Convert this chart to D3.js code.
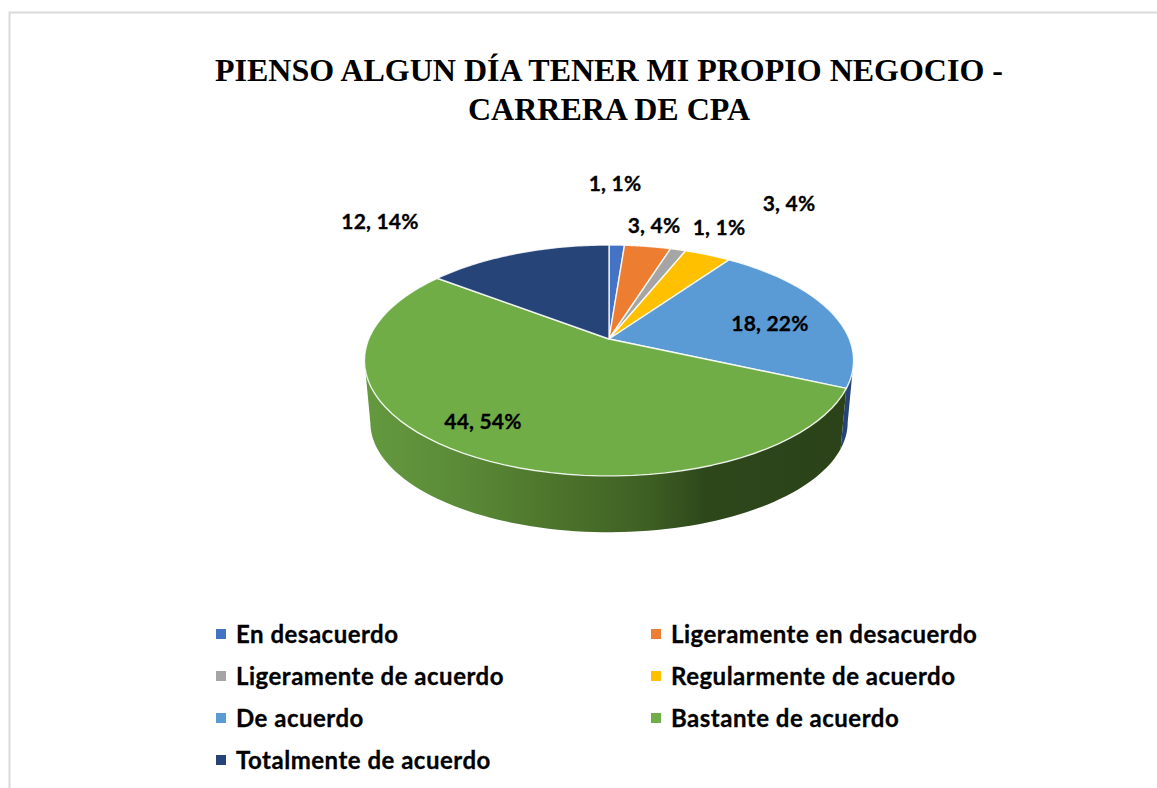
<!DOCTYPE html>
<html><head><meta charset="utf-8">
<script src="https://cdn.jsdelivr.net/npm/d3@7/dist/d3.min.js"></script>
<style>html,body{margin:0;padding:0;background:#fff;overflow:hidden}</style>
</head><body><svg id="c" width="1157" height="788"></svg>
<script>
const titleLines = ["PIENSO ALGUN DÍA TENER MI PROPIO NEGOCIO -", "CARRERA DE CPA"];
const categories = ["En desacuerdo","Ligeramente en desacuerdo","Ligeramente de acuerdo","Regularmente de acuerdo","De acuerdo","Bastante de acuerdo","Totalmente de acuerdo"];
const values = [1,3,1,3,18,44,12];
const percents = ["1%","4%","1%","4%","22%","54%","14%"];
const colors = ["#4472c4","#ed7d31","#a5a5a5","#ffc000","#5b9bd5","#70ad47","#264478"];

// layout
const labelCenters = [[615,184],[654,226],[719,228],[789,204],[770,324],[483,422],[380,222]];
const top_ = {cx:609, cy:339, a:240.3, b:111.5};
const low_ = {cx:609, cy:402, a:234.5, b:106};
const k = -0.186;
const svg = d3.select("#c");

const proj = (p,t) => { const u=Math.sin(t), v=-Math.cos(t), d=1+k*v; return [p.cx+p.a*u/d, p.cy+p.b*v/d]; };
const range = (a,b,n=60) => d3.range(n+1).map(i => a+(b-a)*i/n);
const line = d3.line();

const defs = svg.append("defs");
const wall = defs.append("linearGradient").attr("id","wallG").attr("gradientUnits","userSpaceOnUse")
  .attr("x1",365).attr("x2",853).attr("y1",0).attr("y2",0);
[[0,"#64993f"],[0.2,"#5a8a37"],[0.4,"#4c732b"],[0.58,"#3e5f23"],[0.7,"#2d471b"],[1,"#2b4219"]]
  .forEach(s => wall.append("stop").attr("offset",s[0]).attr("stop-color",s[1]));

// frame
svg.append("path").attr("d","M9.5,788V12.5H1157").attr("fill","none").attr("stroke","#d9d9d9").attr("stroke-width",2);

// title
svg.append("g").selectAll("text").data(titleLines).join("text")
  .attr("x",609).attr("y",(d,i)=>81+i*39).attr("text-anchor","middle")
  .attr("font-family","'Liberation Serif',serif").attr("font-weight","bold").attr("font-size",32).attr("fill","#000")
  .text(d=>d);

const arcs = d3.pie().sort(null).startAngle(0).endAngle(2*Math.PI)(values);
const tanR = Math.acos(k), tanL = 2*Math.PI - tanR;

// side walls
const wallColor = i => i===5 ? "url(#wallG)" : "#264478";
svg.append("g").selectAll("path").data(arcs.filter(d => d.endAngle>tanR && d.startAngle<tanL)).join("path")
  .attr("d", d => {
    const s=Math.max(d.startAngle,tanR), e=Math.min(d.endAngle,tanL);
    const pts = range(s,e,80).map(t=>proj(top_,t)).concat(range(e,s,80).map(t=>proj(low_,t)));
    return line(pts)+"Z";
  })
  .attr("fill", d=>wallColor(d.index));

// top face
svg.append("g").selectAll("path").data(arcs).join("path")
  .attr("d", d => line([[top_.cx,top_.cy]].concat(range(d.startAngle,d.endAngle).map(t=>proj(top_,t))))+"Z")
  .attr("fill", d=>colors[d.index]).attr("stroke","#fff").attr("stroke-opacity",0.85).attr("stroke-width",1.4).attr("stroke-linejoin","round");

// data labels
svg.append("g").selectAll("text").data(arcs).join("text")
  .attr("x",d=>labelCenters[d.index][0]).attr("y",d=>labelCenters[d.index][1]+7)
  .attr("text-anchor","middle").attr("font-family","Lato,sans-serif").attr("font-weight","bold").attr("font-size",21).attr("letter-spacing",0.2)
  .attr("stroke","#000").attr("stroke-width",0.3).attr("fill","#000")
  .text(d=>`${d.value}, ${percents[d.index]}`);

// legend
const col = d3.scalePoint().domain([0,1]).range([216,651]);
const row = d3.scalePoint().domain([0,1,2,3]).range([634,760]);
const lg = svg.append("g").selectAll("g").data(categories).join("g")
  .attr("transform",(d,i)=>`translate(${col(i%2)},${row(Math.floor(i/2))})`);
lg.append("rect").attr("x",0).attr("y",-5).attr("width",10).attr("height",10).attr("fill",(d,i)=>colors[i]);
lg.append("text").attr("x",20).attr("y",9).attr("font-family","Lato,sans-serif").attr("font-weight","bold").attr("font-size",24).attr("letter-spacing",0.5)
  .attr("stroke","#000").attr("stroke-width",0.3).attr("fill","#000").text(d=>d);
</script></body></html>
